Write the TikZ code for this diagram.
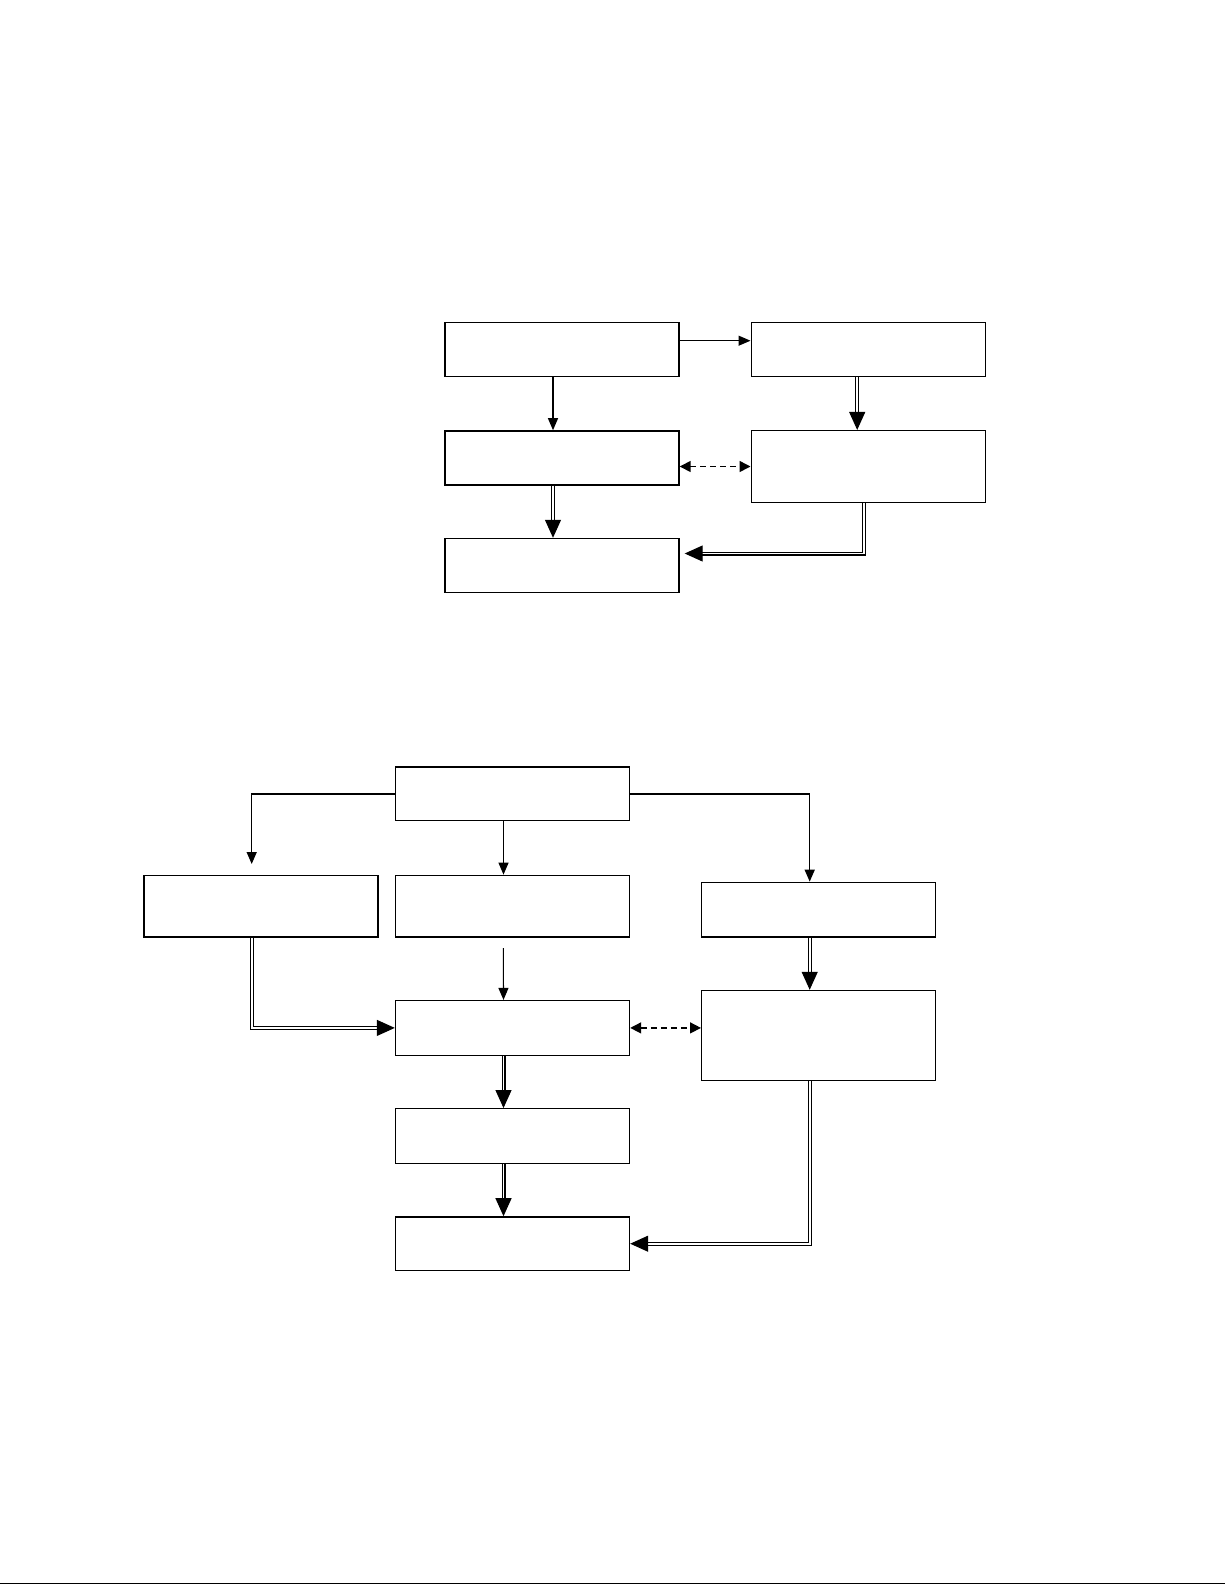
\documentclass[tikz,border=0pt]{standalone}
\usepackage{tikz}
\usetikzlibrary{arrows.meta, positioning, calc}

\begin{document}
\begin{tikzpicture}[
    x=1pt, y=-1pt, >=latex,
    block/.style={draw, rectangle, line width=1.4pt, minimum width=234pt, minimum height=54pt, inner sep=0pt},
    flow/.style={line width=1.1pt, -{Triangle[length=12pt,width=10pt]}},
    dflow/.style={double, line width=1.1pt, double distance=1.8pt, -{Triangle[length=18pt,width=16pt]}},
    link/.style={line width=1.5pt, dash pattern=on 6pt off 4pt, {Triangle[length=11pt,width=11pt]}-{Triangle[length=11pt,width=11pt]}}
]
    \useasboundingbox (0,0) rectangle (1225,1585);

    % Upper chart
    \node[block] (a1) at (562, 349.7) {};
    \node[block] (a2) at (868.2, 349.7) {};
    \node[block] (a3) at (562, 457.9) {};
    \node[block, minimum height=71.7pt] (a4) at (868.2, 466.5) {};
    \node[block] (a5) at (562, 565.5) {};

    \draw[flow] ([yshift=9pt]a1.east) -- ([yshift=9pt]a2.west);
    \draw[flow] ([xshift=-9pt]a1.south) -- ([xshift=-9pt]a3.north);
    \draw[dflow] ([xshift=-11pt]a2.south) -- ([xshift=-11pt]a4.north);
    \draw[link] (a3.east |- a4.west) -- (a4.west);
    \draw[dflow] ([xshift=-9pt]a3.south) -- ([xshift=-9pt]a5.north);
    \draw[dflow, shorten >=5pt] ([xshift=-4pt]a4.south) |- ([yshift=12pt]a5.east);

    % Lower chart
    \node[block, minimum height=53.6pt] (b1) at (512.5, 793.9) {};
    \node[block, minimum height=61.7pt] (b2) at (260.8, 906.2) {};
    \node[block, minimum height=61.7pt] (b3) at (512.5, 906.2) {};
    \node[block, minimum height=54.7pt] (b4) at (818.7, 909.7) {};
    \node[block, minimum height=54.6pt] (b5) at (512.5, 1027.9) {};
    \node[block, minimum height=90pt] (b6) at (818.7, 1035.5) {};
    \node[block, minimum height=54.5pt] (b7) at (512.5, 1136) {};
    \node[block, minimum height=53.6pt] (b8) at (512.5, 1243.7) {};

    \coordinate (lefttip) at (251.7, 864);
    \coordinate (gapstart) at (503.3, 948);

    \draw[flow, line width=1.5pt] (b1.west) -| (lefttip);
    \draw[flow] ([xshift=-9pt]b1.south) -- ([xshift=-9pt]b3.north);
    \draw[flow, line width=1.5pt] (b1.east) -| ([xshift=-9pt]b4.north);
    \draw[flow] (gapstart) -- ([xshift=-9pt]b5.north);
    \draw[dflow] ([xshift=-9pt]b2.south) |- (b5.west);
    \draw[dflow] ([xshift=-9pt]b4.south) -- ([xshift=-9pt]b6.north);
    \draw[link] (b5.east) -- (b5.east -| b6.west);
    \draw[dflow] ([xshift=-9pt]b5.south) -- ([xshift=-9pt]b7.north);
    \draw[dflow] ([xshift=-9pt]b7.south) -- ([xshift=-9pt]b8.north);
    \draw[dflow] ([xshift=-9pt]b6.south) |- (b8.east);

    % Page rule
    \draw[line width=1.5pt] (0,1583.5) -- (1225,1583.5);
\end{tikzpicture}
\end{document}
